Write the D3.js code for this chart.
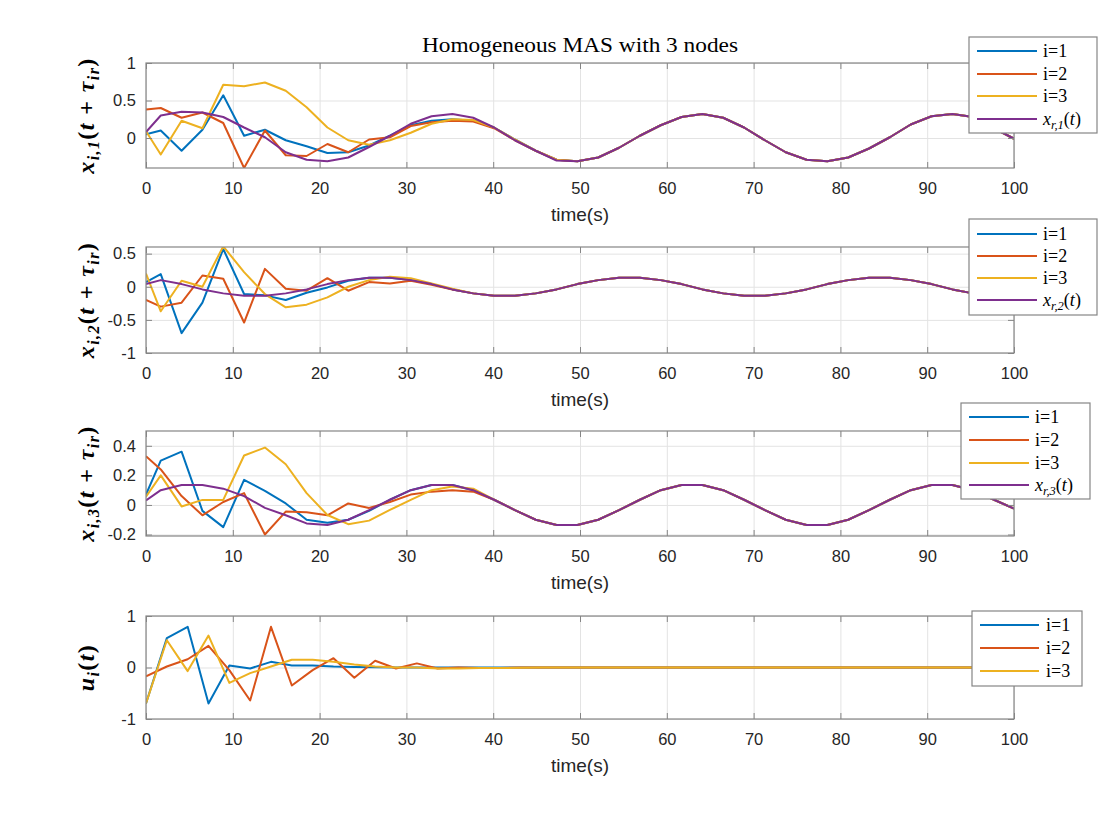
<!DOCTYPE html>
<html>
<head>
<meta charset="utf-8">
<script src="https://cdn.jsdelivr.net/npm/d3@7"></script>
<style>
  body { margin: 0; background: #fff; }
  svg { display: block; }
</style>
</head>
<body>
<div id="chart"></div>
<script>
// sample times of the state plots and of the input plot
var xTimes = [0, 1.7, 4.1, 6.5, 8.9, 11.3, 13.7, 16.1, 18.5, 20.9, 23.3, 25.7, 28.1, 30.5, 32.9, 35.3, 37.7, 40.1, 42.5, 44.9,
  47.3, 49.7, 52.1, 54.5, 56.9, 59.3, 61.7, 64.1, 66.5, 68.9, 71.3, 73.7, 76.1, 78.5, 80.9, 83.3, 85.7, 88.1, 90.5, 92.9, 95.3, 97.7, 100];
var uTimes = [0, 2.4, 4.8, 7.2, 9.6, 12, 14.4, 16.8, 19.2, 21.6, 24, 26.4, 28.8, 31.2, 33.6, 36, 38.4, 40.8, 43.2, 45.6,
  48, 50.4, 52.8, 55.2, 57.6, 60, 62.4, 64.8, 67.2, 69.6, 72, 74.4, 76.8, 79.2, 81.6, 84, 86.4, 88.8, 91.2, 93.6, 96, 98.4, 100];

// x_{i,1}
var x11 = [0.05, 0.10, -0.17, 0.11, 0.57, 0.03, 0.11, -0.03, -0.11, -0.20, -0.19, -0.10, 0.03, 0.17, 0.23, 0.25, 0.23, 0.14, -0.02, -0.17, -0.29, -0.31,
  -0.26, -0.13, 0.03, 0.17, 0.28, 0.32, 0.27, 0.14, -0.03, -0.19, -0.29, -0.31, -0.26, -0.14, 0.01, 0.18, 0.29, 0.32, 0.28, 0.13, -0.01];
var x21 = [0.38, 0.40, 0.27, 0.34, 0.20, -0.40, 0.10, -0.23, -0.24, -0.08, -0.19, -0.02, 0.01, 0.16, 0.21, 0.23, 0.22, 0.13, -0.03, -0.17, -0.29, -0.31,
  -0.26, -0.13, 0.03, 0.17, 0.28, 0.32, 0.27, 0.14, -0.03, -0.19, -0.29, -0.31, -0.26, -0.14, 0.01, 0.18, 0.29, 0.32, 0.28, 0.13, -0.01];
var x31 = [0.09, -0.22, 0.23, 0.13, 0.71, 0.69, 0.74, 0.63, 0.41, 0.14, -0.03, -0.09, -0.03, 0.07, 0.19, 0.25, 0.24, 0.14, -0.02, -0.17, -0.29, -0.31,
  -0.26, -0.13, 0.03, 0.17, 0.28, 0.32, 0.27, 0.14, -0.03, -0.19, -0.29, -0.31, -0.26, -0.14, 0.01, 0.18, 0.29, 0.32, 0.28, 0.13, -0.01];
var xr1 = [0.08, 0.30, 0.35, 0.34, 0.28, 0.14, 0.01, -0.19, -0.29, -0.31, -0.26, -0.12, 0.03, 0.19, 0.29, 0.32, 0.27, 0.14, -0.03, -0.17, -0.30, -0.31,
  -0.26, -0.13, 0.03, 0.17, 0.28, 0.32, 0.27, 0.14, -0.03, -0.19, -0.29, -0.31, -0.26, -0.14, 0.01, 0.18, 0.29, 0.32, 0.28, 0.13, -0.01];

// x_{i,2}
var x12 = [0.07, 0.19, -0.70, -0.24, 0.57, -0.11, -0.13, -0.20, -0.09, -0.01, 0.09,
  0.135, 0.135, 0.10, 0.04, -0.04, -0.10, -0.135, -0.135, -0.10, -0.04, 0.04, 0.10, 0.135, 0.135, 0.10, 0.04, -0.04, -0.10,
  -0.135, -0.135, -0.10, -0.04, 0.04, 0.10, 0.135, 0.135, 0.10, 0.04, -0.04, -0.10, -0.135, -0.135];
var x22 = [-0.20, -0.30, -0.24, 0.17, 0.12, -0.54, 0.27, -0.03, -0.06, 0.13, -0.06, 0.07, 0.05, 0.09, 0.03, -0.04,
  -0.10, -0.135, -0.135, -0.10, -0.04, 0.04, 0.10, 0.135, 0.135, 0.10, 0.04, -0.04, -0.10,
  -0.135, -0.135, -0.10, -0.04, 0.04, 0.10, 0.135, 0.135, 0.10, 0.04, -0.04, -0.10, -0.135, -0.135];
var x32 = [0.20, -0.37, 0.09, 0.00, 0.61, 0.22, -0.11, -0.31, -0.27, -0.16, 0.00, 0.10, 0.15, 0.13, 0.05, -0.03,
  -0.10, -0.135, -0.135, -0.10, -0.04, 0.04, 0.10, 0.135, 0.135, 0.10, 0.04, -0.04, -0.10,
  -0.135, -0.135, -0.10, -0.04, 0.04, 0.10, 0.135, 0.135, 0.10, 0.04, -0.04, -0.10, -0.135, -0.135];
var xr2 = [0.04, 0.10, 0.04, -0.04, -0.10, -0.135, -0.135, -0.10, -0.04, 0.04, 0.10, 0.135, 0.135, 0.10, 0.04, -0.04,
  -0.10, -0.135, -0.135, -0.10, -0.04, 0.04, 0.10, 0.135, 0.135, 0.10, 0.04, -0.04, -0.10,
  -0.135, -0.135, -0.10, -0.04, 0.04, 0.10, 0.135, 0.135, 0.10, 0.04, -0.04, -0.10, -0.135, -0.135];

// x_{i,3}
var x13 = [0.07, 0.30, 0.36, -0.04, -0.15, 0.17, 0.095, 0.01, -0.10, -0.12, -0.10, -0.04,
  0.035, 0.10, 0.135, 0.135, 0.10, 0.035, -0.035, -0.10, -0.135, -0.135, -0.10, -0.035, 0.035, 0.10, 0.135, 0.135, 0.10, 0.035,
  -0.035, -0.10, -0.135, -0.135, -0.10, -0.035, 0.035, 0.10, 0.135, 0.135, 0.10, 0.035, -0.025];
var x23 = [0.33, 0.24, 0.06, -0.07, 0.02, 0.08, -0.20, -0.045, -0.05, -0.07, 0.01, -0.02, 0.02, 0.07, 0.09, 0.10, 0.09, 0.035,
  -0.035, -0.10, -0.135, -0.135, -0.10, -0.035, 0.035, 0.10, 0.135, 0.135, 0.10, 0.035,
  -0.035, -0.10, -0.135, -0.135, -0.10, -0.035, 0.035, 0.10, 0.135, 0.135, 0.10, 0.035, -0.025];
var x33 = [0.056, 0.20, -0.01, 0.034, 0.034, 0.334, 0.388, 0.275, 0.08, -0.068, -0.13, -0.106, -0.034, 0.034, 0.10, 0.124, 0.11, 0.036,
  -0.035, -0.10, -0.135, -0.135, -0.10, -0.035, 0.035, 0.10, 0.135, 0.135, 0.10, 0.035,
  -0.035, -0.10, -0.135, -0.135, -0.10, -0.035, 0.035, 0.10, 0.135, 0.135, 0.10, 0.035, -0.025];
var xr3 = [0.03, 0.10, 0.135, 0.135, 0.11, 0.06, -0.02, -0.07, -0.125, -0.135, -0.10, -0.035,
  0.035, 0.10, 0.135, 0.135, 0.10, 0.035, -0.035, -0.10, -0.135, -0.135, -0.10, -0.035, 0.035, 0.10, 0.135, 0.135, 0.10, 0.035,
  -0.035, -0.10, -0.135, -0.135, -0.10, -0.035, 0.035, 0.10, 0.135, 0.135, 0.10, 0.035, -0.025];

// u_i
var u1 = [-0.70, 0.57, 0.79, -0.70, 0.04, -0.02, 0.11, 0.04, 0.04, 0.02, 0.01, 0.005,
  0, 0, 0, 0, 0, 0, 0, 0, 0, 0, 0, 0, 0, 0, 0, 0, 0, 0, 0, 0, 0, 0, 0, 0, 0, 0, 0, 0, 0, 0, 0];
var u2 = [-0.17, 0.02, 0.16, 0.42, -0.05, -0.64, 0.79, -0.35, -0.05, 0.18, -0.20, 0.13, -0.02, 0.08, -0.02, 0.0, -0.01, -0.01,
  0, 0, 0, 0, 0, 0, 0, 0, 0, 0, 0, 0, 0, 0, 0, 0, 0, 0, 0, 0, 0, 0, 0, 0, 0];
var u3 = [-0.70, 0.53, -0.07, 0.62, -0.30, -0.11, 0.02, 0.15, 0.15, 0.11, 0.06, 0.02, 0.0, 0.0, -0.02, -0.02, -0.01, -0.01, -0.005,
  0, 0, 0, 0, 0, 0, 0, 0, 0, 0, 0, 0, 0, 0, 0, 0, 0, 0, 0, 0, 0, 0, 0];

var xTicks = [0, 10, 20, 30, 40, 50, 60, 70, 80, 90, 100];
var colors = ["#0072BD", "#D95319", "#EDB120", "#7E2F8E"];

var width = 1120, height = 840;
var left = 146, right = 1014;
var axisColor = "#858585", textColor = "#262626";
var serif = "'Liberation Serif', 'DejaVu Serif', serif";
var sans = "'Liberation Sans', Arial, sans-serif";

var svg = d3.select("#chart").append("svg")
    .attr("width", width)
    .attr("height", height);

var scaleX = d3.scaleLinear().domain([0, 100]).range([left, right]);

var panels = [
  {top: 63, bottom: 168, yDomain: [-0.4, 1], yTicks: [0, 0.5, 1], times: xTimes,
   series: [x11, x21, x31, xr1], ylab: ["x", "i,1", true],
   legend: {x: 969, y: 37, w: 128, h: 96, rows: [51, 74, 96, 119], lx: 977, lw: 60, tx: 1043},
   names: ["i=1", "i=2", "i=3", ["x", "r,1"]]},
  {top: 247, bottom: 353, yDomain: [-1, 0.6], yTicks: [-1, -0.5, 0, 0.5], times: xTimes,
   series: [x12, x22, x32, xr2], ylab: ["x", "i,2", true],
   legend: {x: 969, y: 219, w: 128, h: 96, rows: [234, 256, 278, 300], lx: 977, lw: 60, tx: 1043},
   names: ["i=1", "i=2", "i=3", ["x", "r,2"]]},
  {top: 431, bottom: 536, yDomain: [-0.21, 0.5], yTicks: [-0.2, 0, 0.2, 0.4], times: xTimes,
   series: [x13, x23, x33, xr3], ylab: ["x", "i,3", true],
   legend: {x: 961, y: 403, w: 129, h: 96, rows: [417, 440, 463, 485], lx: 969, lw: 60, tx: 1035},
   names: ["i=1", "i=2", "i=3", ["x", "r,3"]]},
  {top: 616, bottom: 719, yDomain: [-1, 1], yTicks: [-1, 0, 1], times: uTimes,
   series: [u1, u2, u3], ylab: ["u", "i", false],
   legend: {x: 972, y: 611, w: 110, h: 75, rows: [625, 648, 671], lx: 980, lw: 59, tx: 1046},
   names: ["i=1", "i=2", "i=3"]}
];

// title
svg.append("text")
    .attr("x", 580)
    .attr("y", 52)
    .attr("text-anchor", "middle")
    .attr("textLength", 316)
    .attr("lengthAdjust", "spacingAndGlyphs")
    .style("font-family", serif)
    .style("font-size", "21px")
    .style("fill", "#000")
    .text("Homogeneous MAS with 3 nodes");

var plainNumber = function(d) { return String(d); };

panels.forEach(function(p, pi) {
    var scaleY = d3.scaleLinear().domain(p.yDomain).range([p.bottom, p.top]);
    var h = p.bottom - p.top;
    var g = svg.append("g");

    // grid
    g.append("g")
        .attr("transform", "translate(0," + p.bottom + ")")
        .call(d3.axisBottom(scaleX).tickValues(xTicks).tickSize(-h).tickFormat(""))
        .call(function(a) {
            a.select(".domain").remove();
            a.selectAll("line").attr("stroke", "#e3e3e3");
        });
    g.append("g")
        .attr("transform", "translate(" + left + ",0)")
        .call(d3.axisLeft(scaleY).tickValues(p.yTicks).tickSize(-(right - left)).tickFormat(""))
        .call(function(a) {
            a.select(".domain").remove();
            a.selectAll("line").attr("stroke", "#e3e3e3");
        });

    // lines
    svg.append("clipPath").attr("id", "clip" + pi)
        .append("rect")
        .attr("x", left).attr("y", p.top)
        .attr("width", right - left).attr("height", h);

    var line = d3.line()
        .x(function(d) { return scaleX(d[0]); })
        .y(function(d) { return scaleY(d[1]); });

    g.append("g").attr("clip-path", "url(#clip" + pi + ")")
        .selectAll("path")
        .data(p.series)
        .enter()
        .append("path")
        .attr("fill", "none")
        .attr("stroke", function(d, i) { return colors[i]; })
        .attr("stroke-width", 2)
        .attr("stroke-linejoin", "round")
        .attr("d", function(d) {
            return line(d.map(function(v, i) { return [p.times[i], v]; }));
        });

    // box and inward ticks
    function styleAxis(a, labels) {
        a.select(".domain").remove();
        a.selectAll("line").attr("stroke", axisColor);
        a.selectAll("text")
            .style("font-family", sans)
            .style("font-size", "16.5px")
            .style("fill", textColor);
        if (!labels) a.selectAll("text").remove();
    }
    g.append("g")
        .attr("transform", "translate(0," + p.bottom + ")")
        .call(d3.axisBottom(scaleX).tickValues(xTicks).tickSize(-6).tickPadding(14).tickFormat(plainNumber))
        .call(function(a) { styleAxis(a, true); });
    g.append("g")
        .attr("transform", "translate(0," + p.top + ")")
        .call(d3.axisTop(scaleX).tickValues(xTicks).tickSize(-6))
        .call(function(a) { styleAxis(a, false); });
    g.append("g")
        .attr("transform", "translate(" + left + ",0)")
        .call(d3.axisLeft(scaleY).tickValues(p.yTicks).tickSize(-6).tickPadding(10).tickFormat(plainNumber))
        .call(function(a) { styleAxis(a, true); });
    g.append("g")
        .attr("transform", "translate(" + right + ",0)")
        .call(d3.axisRight(scaleY).tickValues(p.yTicks).tickSize(-6))
        .call(function(a) { styleAxis(a, false); });

    g.append("rect")
        .attr("x", left).attr("y", p.top)
        .attr("width", right - left).attr("height", h)
        .attr("fill", "none")
        .attr("stroke", axisColor)
        .attr("stroke-width", 1.2);

    // x label
    g.append("text")
        .attr("x", (left + right) / 2)
        .attr("y", p.bottom + 53)
        .attr("text-anchor", "middle")
        .style("font-family", sans)
        .style("font-size", "19px")
        .style("fill", textColor)
        .text("time(s)");

    // y label
    var yl = g.append("text")
        .attr("transform", "translate(94," + ((p.top + p.bottom) / 2) + ") rotate(-90)")
        .attr("text-anchor", "middle")
        .style("font-family", serif)
        .style("font-size", "24px")
        .style("font-weight", "bold")
        .style("letter-spacing", "1.4px")
        .style("fill", "#000");
    yl.append("tspan").style("font-style", "italic").text(p.ylab[0]);
    yl.append("tspan").attr("dy", 5).style("font-size", "16px").style("font-style", "italic").text(p.ylab[1]);
    yl.append("tspan").attr("dy", -5).text("(");
    yl.append("tspan").style("font-style", "italic").text("t");
    if (p.ylab[2]) {
        yl.append("tspan").text(" + ");
        yl.append("tspan").style("font-style", "italic").text("τ");
        yl.append("tspan").attr("dy", 5).style("font-size", "16px").style("font-style", "italic").text("ir");
        yl.append("tspan").attr("dy", -5).text(")");
    } else {
        yl.append("tspan").text(")");
    }

    // legend
    var L = p.legend;
    var lg = svg.append("g");
    lg.append("rect")
        .attr("x", L.x).attr("y", L.y)
        .attr("width", L.w).attr("height", L.h)
        .attr("fill", "#fff")
        .attr("stroke", axisColor)
        .attr("stroke-width", 1.2);
    p.names.forEach(function(name, i) {
        lg.append("line")
            .attr("x1", L.lx).attr("x2", L.lx + L.lw)
            .attr("y1", L.rows[i]).attr("y2", L.rows[i])
            .attr("stroke", colors[i])
            .attr("stroke-width", 2);
        var t = lg.append("text")
            .attr("x", L.tx)
            .attr("y", L.rows[i] + 6)
            .style("font-family", serif)
            .style("font-size", "18px")
            .style("fill", "#000");
        if (typeof name === "string") {
            t.text(name);
        } else {
            t.append("tspan").style("font-style", "italic").text(name[0]);
            t.append("tspan").attr("dy", 4).style("font-size", "12.5px").style("font-style", "italic").text(name[1]);
            t.append("tspan").attr("dy", -4).text("(");
            t.append("tspan").style("font-style", "italic").text("t");
            t.append("tspan").text(")");
        }
    });
});
</script>
</body>
</html>
